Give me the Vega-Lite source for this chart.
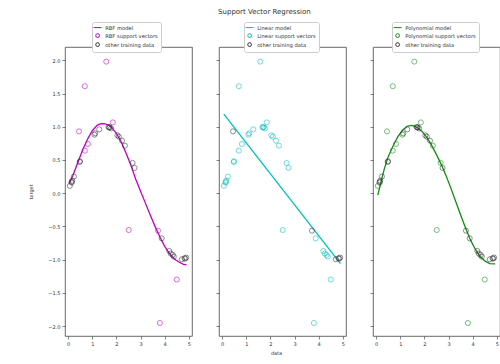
{
  "$schema": "https://vega.github.io/schema/vega-lite/v6.json",
  "padding": {"left": 28, "top": 8, "right": 0, "bottom": 4},
  "title": {"text": "Support Vector Regression", "fontSize": 7, "fontWeight": "normal", "font": "DejaVu Sans", "color": "#333", "anchor": "middle", "offset": 6},
  "spacing": 22,
  "resolve": {"scale": {"color": "independent", "x": "independent", "y": "independent"}, "legend": {"color": "independent"}, "axis": {"x": "independent", "y": "independent"}},
  "datasets": {
    "pts": [
      {"x": 0.07, "y": 0.11, "rbf": "other training data", "lin": "Linear support vectors", "poly": "Polynomial support vectors"},
      {"x": 0.14, "y": 0.16, "rbf": "other training data", "lin": "Linear support vectors", "poly": "other training data"},
      {"x": 0.15, "y": 0.17, "rbf": "other training data", "lin": "Linear support vectors", "poly": "other training data"},
      {"x": 0.17, "y": 0.19, "rbf": "other training data", "lin": "Linear support vectors", "poly": "other training data"},
      {"x": 0.24, "y": 0.25, "rbf": "other training data", "lin": "Linear support vectors", "poly": "other training data"},
      {"x": 0.45, "y": 0.93, "rbf": "RBF support vectors", "lin": "other training data", "poly": "Polynomial support vectors"},
      {"x": 0.48, "y": 0.47, "rbf": "other training data", "lin": "Linear support vectors", "poly": "other training data"},
      {"x": 0.49, "y": 0.48, "rbf": "other training data", "lin": "Linear support vectors", "poly": "other training data"},
      {"x": 0.69, "y": 0.64, "rbf": "RBF support vectors", "lin": "Linear support vectors", "poly": "Polynomial support vectors"},
      {"x": 0.69, "y": 1.61, "rbf": "RBF support vectors", "lin": "Linear support vectors", "poly": "Polynomial support vectors"},
      {"x": 0.82, "y": 0.74, "rbf": "RBF support vectors", "lin": "Linear support vectors", "poly": "Polynomial support vectors"},
      {"x": 1.09, "y": 0.88, "rbf": "other training data", "lin": "Linear support vectors", "poly": "Polynomial support vectors"},
      {"x": 1.12, "y": 0.9, "rbf": "other training data", "lin": "Linear support vectors", "poly": "other training data"},
      {"x": 1.29, "y": 0.96, "rbf": "other training data", "lin": "Linear support vectors", "poly": "other training data"},
      {"x": 1.58, "y": 1.98, "rbf": "RBF support vectors", "lin": "Linear support vectors", "poly": "Polynomial support vectors"},
      {"x": 1.67, "y": 0.995, "rbf": "other training data", "lin": "Linear support vectors", "poly": "other training data"},
      {"x": 1.7, "y": 0.99, "rbf": "other training data", "lin": "Linear support vectors", "poly": "other training data"},
      {"x": 1.72, "y": 0.99, "rbf": "other training data", "lin": "Linear support vectors", "poly": "other training data"},
      {"x": 1.78, "y": 0.975, "rbf": "other training data", "lin": "Linear support vectors", "poly": "other training data"},
      {"x": 1.85, "y": 1.065, "rbf": "RBF support vectors", "lin": "Linear support vectors", "poly": "Polynomial support vectors"},
      {"x": 2.04, "y": 0.87, "rbf": "other training data", "lin": "Linear support vectors", "poly": "other training data"},
      {"x": 2.1, "y": 0.85, "rbf": "other training data", "lin": "Linear support vectors", "poly": "other training data"},
      {"x": 2.23, "y": 0.79, "rbf": "other training data", "lin": "Linear support vectors", "poly": "other training data"},
      {"x": 2.35, "y": 0.715, "rbf": "other training data", "lin": "Linear support vectors", "poly": "Polynomial support vectors"},
      {"x": 2.51, "y": -0.555, "rbf": "RBF support vectors", "lin": "Linear support vectors", "poly": "Polynomial support vectors"},
      {"x": 2.67, "y": 0.455, "rbf": "other training data", "lin": "Linear support vectors", "poly": "Polynomial support vectors"},
      {"x": 2.75, "y": 0.38, "rbf": "other training data", "lin": "Linear support vectors", "poly": "other training data"},
      {"x": 3.72, "y": -0.565, "rbf": "RBF support vectors", "lin": "other training data", "poly": "other training data"},
      {"x": 3.8, "y": -1.955, "rbf": "RBF support vectors", "lin": "Linear support vectors", "poly": "Polynomial support vectors"},
      {"x": 3.875, "y": -0.68, "rbf": "other training data", "lin": "Linear support vectors", "poly": "other training data"},
      {"x": 4.19, "y": -0.87, "rbf": "other training data", "lin": "Linear support vectors", "poly": "other training data"},
      {"x": 4.25, "y": -0.91, "rbf": "other training data", "lin": "Linear support vectors", "poly": "other training data"},
      {"x": 4.33, "y": -0.93, "rbf": "other training data", "lin": "Linear support vectors", "poly": "other training data"},
      {"x": 4.375, "y": -0.955, "rbf": "other training data", "lin": "Linear support vectors", "poly": "other training data"},
      {"x": 4.5, "y": -1.3, "rbf": "RBF support vectors", "lin": "Linear support vectors", "poly": "Polynomial support vectors"},
      {"x": 4.71, "y": -0.995, "rbf": "other training data", "lin": "other training data", "poly": "other training data"},
      {"x": 4.82, "y": -0.98, "rbf": "other training data", "lin": "other training data", "poly": "other training data"},
      {"x": 4.85, "y": -0.985, "rbf": "other training data", "lin": "other training data", "poly": "other training data"},
      {"x": 4.89, "y": -0.97, "rbf": "other training data", "lin": "other training data", "poly": "other training data"}
    ],
    "curves": [
      {"model": "RBF model", "x": 0.05, "y": 0.15},
      {"model": "RBF model", "x": 0.2, "y": 0.27},
      {"model": "RBF model", "x": 0.4, "y": 0.46},
      {"model": "RBF model", "x": 0.6, "y": 0.65},
      {"model": "RBF model", "x": 0.8, "y": 0.81},
      {"model": "RBF model", "x": 1.0, "y": 0.94},
      {"model": "RBF model", "x": 1.2, "y": 1.02},
      {"model": "RBF model", "x": 1.35, "y": 1.045},
      {"model": "RBF model", "x": 1.5, "y": 1.045},
      {"model": "RBF model", "x": 1.65, "y": 1.03},
      {"model": "RBF model", "x": 1.8, "y": 0.99},
      {"model": "RBF model", "x": 2.0, "y": 0.9},
      {"model": "RBF model", "x": 2.2, "y": 0.77},
      {"model": "RBF model", "x": 2.4, "y": 0.6},
      {"model": "RBF model", "x": 2.6, "y": 0.42},
      {"model": "RBF model", "x": 2.8, "y": 0.21},
      {"model": "RBF model", "x": 3.0, "y": 0.03},
      {"model": "RBF model", "x": 3.2, "y": -0.15},
      {"model": "RBF model", "x": 3.4, "y": -0.33},
      {"model": "RBF model", "x": 3.6, "y": -0.5},
      {"model": "RBF model", "x": 3.8, "y": -0.66},
      {"model": "RBF model", "x": 4.0, "y": -0.8},
      {"model": "RBF model", "x": 4.2, "y": -0.91},
      {"model": "RBF model", "x": 4.4, "y": -0.99},
      {"model": "RBF model", "x": 4.6, "y": -1.04},
      {"model": "RBF model", "x": 4.8, "y": -1.075},
      {"model": "RBF model", "x": 4.9, "y": -1.075},
      {"model": "Linear model", "x": 0.07, "y": 1.19},
      {"model": "Linear model", "x": 4.9, "y": -1.06},
      {"model": "Polynomial model", "x": 0.07, "y": -0.03},
      {"model": "Polynomial model", "x": 0.2, "y": 0.17},
      {"model": "Polynomial model", "x": 0.35, "y": 0.38},
      {"model": "Polynomial model", "x": 0.5, "y": 0.55},
      {"model": "Polynomial model", "x": 0.7, "y": 0.71},
      {"model": "Polynomial model", "x": 0.9, "y": 0.85},
      {"model": "Polynomial model", "x": 1.1, "y": 0.95},
      {"model": "Polynomial model", "x": 1.3, "y": 1.01},
      {"model": "Polynomial model", "x": 1.5, "y": 1.02},
      {"model": "Polynomial model", "x": 1.7, "y": 0.99},
      {"model": "Polynomial model", "x": 1.9, "y": 0.93},
      {"model": "Polynomial model", "x": 2.1, "y": 0.84},
      {"model": "Polynomial model", "x": 2.3, "y": 0.72},
      {"model": "Polynomial model", "x": 2.5, "y": 0.58},
      {"model": "Polynomial model", "x": 2.7, "y": 0.43},
      {"model": "Polynomial model", "x": 2.9, "y": 0.26},
      {"model": "Polynomial model", "x": 3.1, "y": 0.07},
      {"model": "Polynomial model", "x": 3.3, "y": -0.13},
      {"model": "Polynomial model", "x": 3.5, "y": -0.33},
      {"model": "Polynomial model", "x": 3.7, "y": -0.52},
      {"model": "Polynomial model", "x": 3.9, "y": -0.7},
      {"model": "Polynomial model", "x": 4.1, "y": -0.84},
      {"model": "Polynomial model", "x": 4.3, "y": -0.95},
      {"model": "Polynomial model", "x": 4.5, "y": -1.02},
      {"model": "Polynomial model", "x": 4.7, "y": -1.06},
      {"model": "Polynomial model", "x": 4.93, "y": -1.065}
    ]
  },
  "hconcat": [
    {
      "width": 127, "height": 289,
      "layer": [
        {
          "data": {"name": "curves"},
          "transform": [{"filter": "datum.model === 'RBF model'"}],
          "mark": {"type": "line", "strokeWidth": 1.3},
          "encoding": {
            "x": {"field": "x", "type": "quantitative", "scale": {"domain": [-0.13, 5.13], "nice": false, "zero": false}, "axis": {"values": [0, 1, 2, 3, 4, 5], "tickCount": 20, "format": "d", "title": null, "labelOverlap": false, "labelFlush": false}},
            "y": {"field": "y", "type": "quantitative", "scale": {"domain": [-2.15, 2.2], "nice": false, "zero": false}, "axis": {"values": [-2, -1.5, -1, -0.5, 0, 0.5, 1, 1.5, 2], "tickCount": 20, "format": ".1f", "title": "target", "titlePadding": 14, "labelOverlap": false, "labelFlush": false}},
            "color": {"field": "model", "type": "nominal", "scale": {"domain": ["RBF model", "RBF support vectors", "other training data"], "range": ["#bf00bf", "#bf00bf", "#333333"]},
              "legend": {"title": null, "orient": "none", "legendX": 27, "legendY": -25, "encode": {"symbols": {"update": {"shape": {"signal": "datum.value === 'RBF model' ? 'stroke' : 'circle'"}, "size": {"signal": "datum.value === 'RBF model' ? 64 : 14"}, "fill": {"value": "transparent"}}}}}}
          }
        },
        {
          "data": {"name": "pts"},
          "transform": [{"filter": "datum.rbf === 'RBF support vectors'"}],
          "mark": {"type": "point", "shape": "circle", "filled": false, "size": 26, "strokeWidth": 0.8},
          "encoding": {"x": {"field": "x", "type": "quantitative"}, "y": {"field": "y", "type": "quantitative"}, "color": {"field": "rbf", "type": "nominal"}}
        },
        {
          "data": {"name": "pts"},
          "transform": [{"filter": "datum.rbf === 'other training data'"}],
          "mark": {"type": "point", "shape": "circle", "filled": false, "size": 26, "strokeWidth": 0.8},
          "encoding": {"x": {"field": "x", "type": "quantitative"}, "y": {"field": "y", "type": "quantitative"}, "color": {"field": "rbf", "type": "nominal"}}
        }
      ]
    },
    {
      "width": 127, "height": 289,
      "layer": [
        {
          "data": {"name": "curves"},
          "transform": [{"filter": "datum.model === 'Linear model'"}],
          "mark": {"type": "line", "strokeWidth": 1.3},
          "encoding": {
            "x": {"field": "x", "type": "quantitative", "scale": {"domain": [-0.13, 5.13], "nice": false, "zero": false}, "axis": {"values": [0, 1, 2, 3, 4, 5], "tickCount": 20, "format": "d", "title": "data", "titlePadding": 4, "titleX": 57, "labelOverlap": false, "labelFlush": false}},
            "y": {"field": "y", "type": "quantitative", "scale": {"domain": [-2.15, 2.2], "nice": false, "zero": false}, "axis": {"values": [-2, -1.5, -1, -0.5, 0, 0.5, 1, 1.5, 2], "tickCount": 20, "labels": false, "title": null}},
            "color": {"field": "model", "type": "nominal", "scale": {"domain": ["Linear model", "Linear support vectors", "other training data"], "range": ["#00bfbf", "#00bfbf", "#333333"]},
              "legend": {"title": null, "orient": "none", "legendX": 25, "legendY": -25, "encode": {"symbols": {"update": {"shape": {"signal": "datum.value === 'Linear model' ? 'stroke' : 'circle'"}, "size": {"signal": "datum.value === 'Linear model' ? 64 : 14"}, "fill": {"value": "transparent"}}}}}}
          }
        },
        {
          "data": {"name": "pts"},
          "transform": [{"filter": "datum.lin === 'Linear support vectors'"}],
          "mark": {"type": "point", "shape": "circle", "filled": false, "size": 26, "strokeWidth": 0.8},
          "encoding": {"x": {"field": "x", "type": "quantitative"}, "y": {"field": "y", "type": "quantitative"}, "color": {"field": "lin", "type": "nominal"}}
        },
        {
          "data": {"name": "pts"},
          "transform": [{"filter": "datum.lin === 'other training data'"}],
          "mark": {"type": "point", "shape": "circle", "filled": false, "size": 26, "strokeWidth": 0.8},
          "encoding": {"x": {"field": "x", "type": "quantitative"}, "y": {"field": "y", "type": "quantitative"}, "color": {"field": "lin", "type": "nominal"}}
        }
      ]
    },
    {
      "width": 127, "height": 289,
      "layer": [
        {
          "data": {"name": "curves"},
          "transform": [{"filter": "datum.model === 'Polynomial model'"}],
          "mark": {"type": "line", "strokeWidth": 1.3},
          "encoding": {
            "x": {"field": "x", "type": "quantitative", "scale": {"domain": [-0.13, 5.13], "nice": false, "zero": false}, "axis": {"values": [0, 1, 2, 3, 4, 5], "tickCount": 20, "format": "d", "title": null, "labelOverlap": false, "labelFlush": false}},
            "y": {"field": "y", "type": "quantitative", "scale": {"domain": [-2.15, 2.2], "nice": false, "zero": false}, "axis": {"values": [-2, -1.5, -1, -0.5, 0, 0.5, 1, 1.5, 2], "tickCount": 20, "labels": false, "title": null}},
            "color": {"field": "model", "type": "nominal", "scale": {"domain": ["Polynomial model", "Polynomial support vectors", "other training data"], "range": ["#128c12", "#128c12", "#333333"]},
              "legend": {"title": null, "orient": "none", "legendX": 19, "legendY": -25, "encode": {"symbols": {"update": {"shape": {"signal": "datum.value === 'Polynomial model' ? 'stroke' : 'circle'"}, "size": {"signal": "datum.value === 'Polynomial model' ? 64 : 14"}, "fill": {"value": "transparent"}}}}}}
          }
        },
        {
          "data": {"name": "pts"},
          "transform": [{"filter": "datum.poly === 'Polynomial support vectors'"}],
          "mark": {"type": "point", "shape": "circle", "filled": false, "size": 26, "strokeWidth": 0.8},
          "encoding": {"x": {"field": "x", "type": "quantitative"}, "y": {"field": "y", "type": "quantitative"}, "color": {"field": "poly", "type": "nominal"}}
        },
        {
          "data": {"name": "pts"},
          "transform": [{"filter": "datum.poly === 'other training data'"}],
          "mark": {"type": "point", "shape": "circle", "filled": false, "size": 26, "strokeWidth": 0.8},
          "encoding": {"x": {"field": "x", "type": "quantitative"}, "y": {"field": "y", "type": "quantitative"}, "color": {"field": "poly", "type": "nominal"}}
        }
      ]
    }
  ],
  "config": {
    "font": "DejaVu Sans",
    "view": {"stroke": "#444444", "strokeWidth": 0.8},
    "axis": {"grid": false, "domain": false, "tickSize": 3, "tickWidth": 0.6, "tickColor": "#333333", "labelFontSize": 5, "labelColor": "#333333", "labelPadding": 2, "labelOverlap": false, "titleFontSize": 5, "titleFontWeight": "normal", "titleColor": "#333333", "labelFont": "DejaVu Sans", "titleFont": "DejaVu Sans"},
    "legend": {"direction": "vertical", "labelFontSize": 5.2, "labelColor": "#333333", "labelFont": "DejaVu Sans", "symbolStrokeWidth": 1, "rowPadding": 0, "padding": 3, "strokeColor": "#cccccc", "fillColor": "white", "cornerRadius": 2, "labelOffset": 5, "labelLimit": 200, "symbolSize": 14}
  }
}
